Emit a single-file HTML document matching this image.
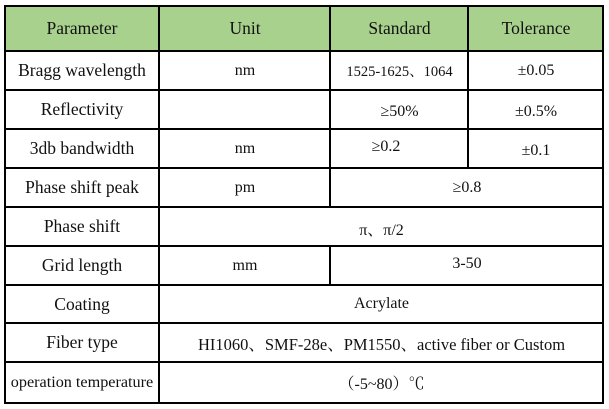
<!DOCTYPE html><html><head><style>
body{margin:0;width:609px;height:409px;background:#fff;position:relative;overflow:hidden;font-family:"Liberation Serif","Noto Serif CJK SC",serif;color:#111}
.c{position:absolute;display:flex;align-items:center;justify-content:center;font-size:17.5px;white-space:nowrap}
.s{font-size:16px}
.h{position:absolute;background:#000;height:2px}
.v{position:absolute;background:#000;width:2px}
</style></head><body>
<div style="position:absolute;left:5px;top:6px;width:598px;height:45px;background:#a9d18e"></div>
<div class="h" style="left:4px;width:600px;top:5px"></div>
<div class="h" style="left:4px;width:600px;top:50px"></div>
<div class="h" style="left:4px;width:600px;top:89px"></div>
<div class="h" style="left:4px;width:600px;top:128px"></div>
<div class="h" style="left:4px;width:600px;top:167px"></div>
<div class="h" style="left:4px;width:600px;top:206px"></div>
<div class="h" style="left:4px;width:600px;top:245px"></div>
<div class="h" style="left:4px;width:600px;top:284px"></div>
<div class="h" style="left:4px;width:600px;top:322px"></div>
<div class="h" style="left:4px;width:600px;top:361px"></div>
<div class="h" style="left:4px;width:600px;top:402px"></div>
<div class="v" style="left:4px;top:5px;height:399px"></div>
<div class="v" style="left:602px;top:5px;height:399px"></div>
<div class="v" style="left:158px;top:5px;height:399px"></div>
<div class="v" style="left:329px;top:5px;height:201px"></div>
<div class="v" style="left:329px;top:245px;height:39px"></div>
<div class="v" style="left:467px;top:5px;height:162px"></div>

<div class="c" style="left:5px;width:154px;top:6px;height:45px">Parameter</div>
<div class="c" style="left:160px;width:170px;top:6px;height:45px">Unit</div>
<div class="c" style="left:331px;width:137px;top:6px;height:45px">Standard</div>
<div class="c" style="left:469px;width:134px;top:6px;height:45px">Tolerance</div>

<div class="c" style="left:5px;width:154px;top:51px;height:39px">Bragg wavelength</div>
<div class="c s" style="left:160px;width:170px;top:51px;height:39px">nm</div>
<div class="c" style="left:331px;width:137px;top:51px;height:39px;font-size:14.5px">1525-1625、1064</div>
<div class="c s" style="left:469px;width:134px;top:51px;height:39px">±0.05</div>

<div class="c" style="left:5px;width:154px;top:90px;height:39px">Reflectivity</div>
<div class="c s" style="left:331px;width:137px;top:92px;height:39px">≥50%</div>
<div class="c s" style="left:469px;width:134px;top:92px;height:39px">±0.5%</div>

<div class="c" style="left:5px;width:154px;top:129px;height:39px">3db bandwidth</div>
<div class="c s" style="left:160px;width:170px;top:129px;height:39px">nm</div>
<div class="c s" style="left:331px;width:110px;top:127px;height:39px">≥0.2</div>
<div class="c s" style="left:469px;width:134px;top:131px;height:39px">±0.1</div>

<div class="c" style="left:5px;width:154px;top:168px;height:39px">Phase shift peak</div>
<div class="c s" style="left:160px;width:170px;top:168px;height:39px">pm</div>
<div class="c s" style="left:331px;width:272px;top:168px;height:39px">≥0.8</div>

<div class="c" style="left:5px;width:154px;top:207px;height:39px">Phase shift</div>
<div class="c s" style="left:160px;width:443px;top:209px;height:39px">π、π/2</div>

<div class="c" style="left:5px;width:154px;top:246px;height:39px">Grid length</div>
<div class="c s" style="left:160px;width:170px;top:246px;height:39px">mm</div>
<div class="c s" style="left:331px;width:272px;top:244px;height:39px">3-50</div>

<div class="c" style="left:5px;width:154px;top:285px;height:38px">Coating</div>
<div class="c s" style="left:160px;width:443px;top:285px;height:38px">Acrylate</div>

<div class="c" style="left:5px;width:154px;top:323px;height:39px">Fiber type</div>
<div class="c" style="left:160px;width:443px;top:323px;height:39px;font-size:16.5px">HI1060、SMF-28e、PM1550、active fiber or Custom</div>

<div class="c" style="left:5px;width:154px;top:362px;height:41px;font-size:16.2px">operation temperature</div>
<div class="c s" style="left:160px;width:443px;top:362px;height:41px">（-5~80）℃</div>
</body></html>
